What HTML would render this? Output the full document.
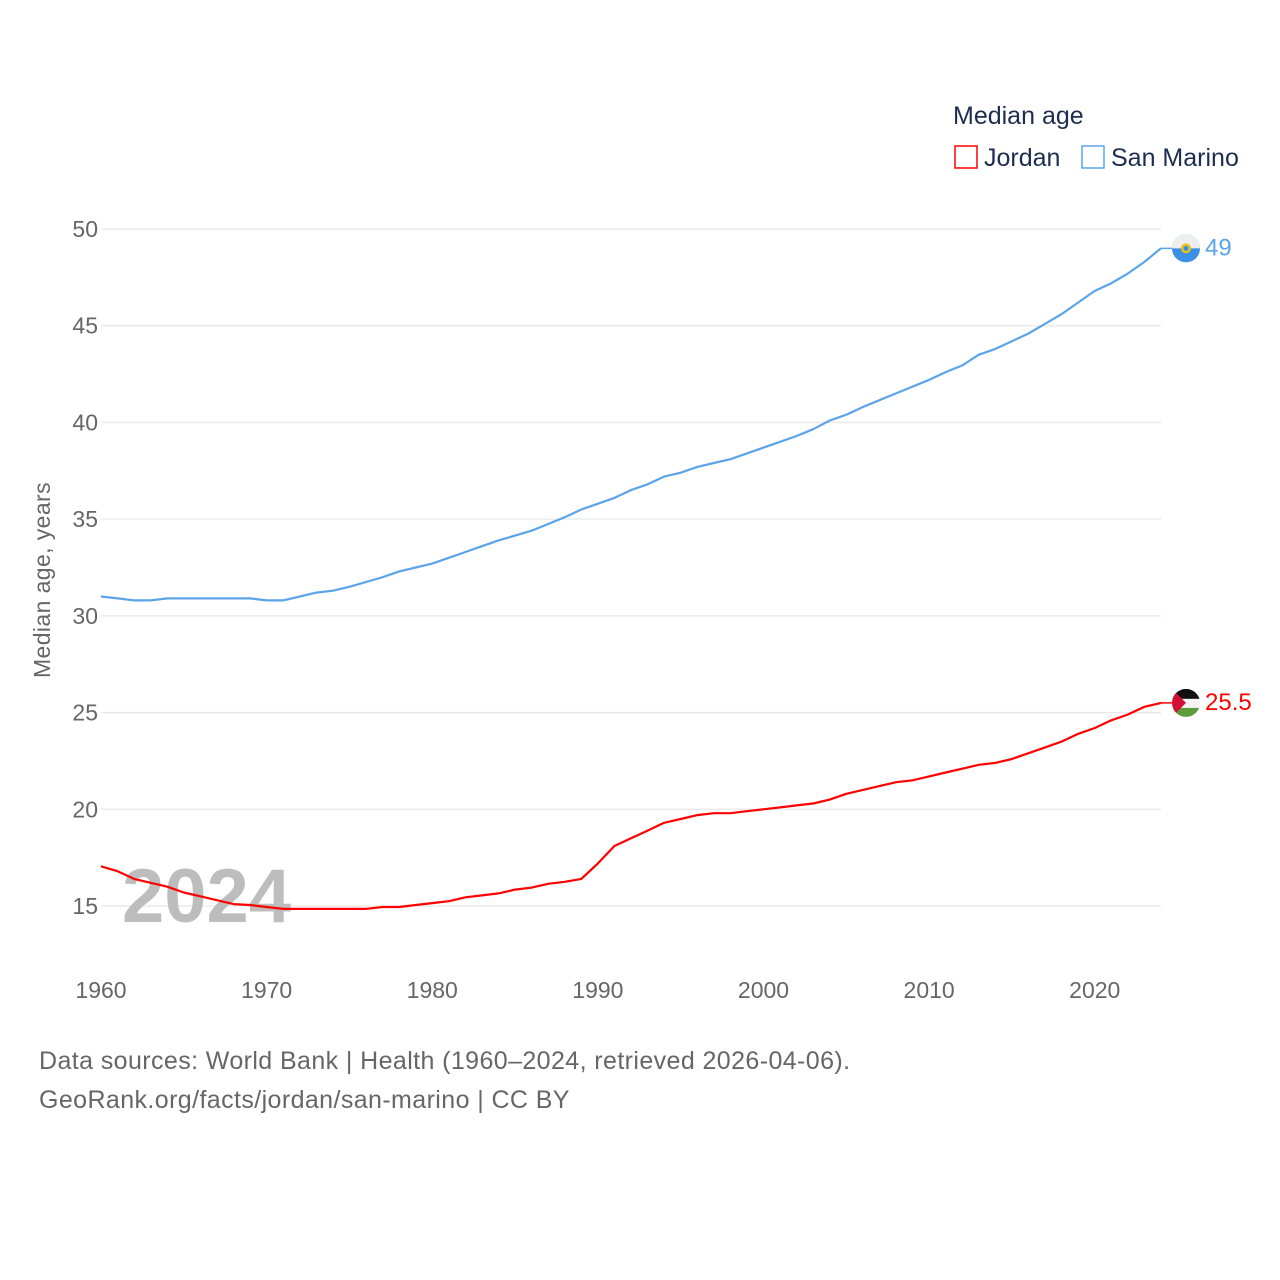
<!DOCTYPE html>
<html><head><meta charset="utf-8"><style>
html,body{margin:0;padding:0;background:#fff;}
svg{display:block;font-family:"Liberation Sans",sans-serif;}
</style></head><body>
<svg id="chart" width="1280" height="1280" viewBox="0 0 1280 1280">
<g>
<text x="953" y="124" font-size="25" fill="#1c2d4f">Median age</text>
<rect x="955" y="146" width="22" height="22" fill="none" stroke="#ff0000" stroke-width="1.5"/>
<text x="984" y="166" font-size="25" fill="#1c2d4f">Jordan</text>
<rect x="1082" y="146" width="22" height="22" fill="none" stroke="#5ba4ea" stroke-width="1.5"/>
<text x="1111" y="166" font-size="25" fill="#1c2d4f">San Marino</text>
</g>
<g id="grid"></g>
<g id="yticks"></g>
<g id="xticks"></g>
<text x="0" y="0" transform="translate(50,580) rotate(-90)" text-anchor="middle" font-size="23" letter-spacing="0.4" fill="#666">Median age, years</text>
<text x="122" y="922" font-size="76" font-weight="bold" fill="#bdbdbd">2024</text>
<g id="series"></g>
<text x="39" y="1069" font-size="25" letter-spacing="0.4" fill="#666">Data sources: World Bank | Health (1960–2024, retrieved 2026-04-06).</text>
<text x="39" y="1108" font-size="25" letter-spacing="0.4" fill="#666">GeoRank.org/facts/jordan/san-marino | CC BY</text>
</svg>
<script>
const years = [];
for (let y = 1960; y <= 2024; y++) years.push(y);
const sanMarino = [31.0,30.9,30.8,30.8,30.9,30.9,30.9,30.9,30.9,30.9,30.8,30.8,31.0,31.2,31.3,31.5,31.75,32.0,32.3,32.5,32.7,33.0,33.3,33.6,33.9,34.15,34.4,34.75,35.1,35.5,35.8,36.1,36.5,36.8,37.2,37.4,37.7,37.9,38.1,38.4,38.7,39.0,39.3,39.65,40.1,40.4,40.8,41.15,41.5,41.85,42.2,42.6,42.95,43.5,43.8,44.2,44.6,45.1,45.6,46.2,46.8,47.2,47.7,48.3,49.0];
const jordan = [17.05,16.8,16.4,16.2,16.0,15.7,15.5,15.3,15.1,15.05,14.95,14.85,14.85,14.85,14.85,14.85,14.85,14.95,14.95,15.05,15.15,15.25,15.45,15.55,15.65,15.85,15.95,16.15,16.25,16.4,17.2,18.1,18.5,18.9,19.3,19.5,19.7,19.8,19.8,19.9,20.0,20.1,20.2,20.3,20.5,20.8,21.0,21.2,21.4,21.5,21.7,21.9,22.1,22.3,22.4,22.6,22.9,23.2,23.5,23.9,24.2,24.6,24.9,25.3,25.5];
const yTicks = [15,20,25,30,35,40,45,50];
const xTicks = [1960,1970,1980,1990,2000,2010,2020];
const endLabels = ["25.5","49"];

const NS = "http://www.w3.org/2000/svg";
const xs = y => 101 + (y - 1960) * (1161 - 101) / 64;
const ys = v => 229 + (50 - v) * (906 - 229) / 35;
function mk(tag, attrs, parent, text) {
  const el = document.createElementNS(NS, tag);
  for (const k in attrs) el.setAttribute(k, attrs[k]);
  if (text !== undefined) el.textContent = text;
  parent.appendChild(el);
  return el;
}
const grid = document.getElementById('grid'), yt = document.getElementById('yticks'), xt = document.getElementById('xticks'), ser = document.getElementById('series');
yTicks.forEach(v => {
  const l = mk('line', {x1:101, x2:1161, y1:ys(v), y2:ys(v), stroke:'#e8e8e8', 'stroke-width':1.3}, grid);
  
  
  const t = mk('text', {x:98, y:ys(v)+8, 'text-anchor':'end', 'font-size':23, fill:'#666'}, yt, String(v));
  
  
});
xTicks.forEach(v => {
  const t = mk('text', {x:xs(v), y:998, 'text-anchor':'middle', 'font-size':23, fill:'#666'}, xt, String(v));
  
  
});
function line(data, color, name) {
  const d = data.map((v, i) => (i ? 'L' : 'M') + xs(years[i]).toFixed(1) + ',' + ys(v).toFixed(1)).join(' ');
  const p = mk('path', {d:d, fill:'none', stroke:color, 'stroke-width':2.2, 'stroke-linejoin':'round'}, ser);
  
  
  const last = data[data.length - 1], lx = xs(years[years.length - 1]);
  const c = mk('line', {x1:lx, x2:lx+12, y1:ys(last), y2:ys(last), stroke:color, 'stroke-width':1.5}, ser);
  
  
  return ys(last);
}
const yS = line(sanMarino, '#5ba4ea', 'line-san-marino');
const yJ = line(jordan, '#ff0000', 'line-jordan');
const fS = mk('g', {}, ser);


mk('circle', {cx:1186, cy:yS, r:14, fill:'#3b8fe6'}, fS);
mk('path', {d:`M1172,${yS} A14,14 0 0 1 1200,${yS} Z`, fill:'#eeeeee'}, fS);
mk('circle', {cx:1186, cy:yS, r:5, fill:'#e8c21a'}, fS);
mk('circle', {cx:1186, cy:yS, r:2.5, fill:'#3b8fe6'}, fS);
const tS = mk('text', {x:1205, y:yS+7, 'font-size':24, fill:'#5ba4ea'}, ser, endLabels[1]);


const fJ = mk('g', {}, ser);


const cpath = mk('clipPath', {id:'jc'}, fJ);
mk('circle', {cx:1186, cy:yJ, r:14}, cpath);
const gj = mk('g', {'clip-path':'url(#jc)'}, fJ);
mk('rect', {x:1172, y:yJ-14, width:28, height:10, fill:'#111'}, gj);
mk('rect', {x:1172, y:yJ-4, width:28, height:9, fill:'#f4f4f4'}, gj);
mk('rect', {x:1172, y:yJ+5, width:28, height:10, fill:'#5d9c3a'}, gj);
mk('path', {d:`M1172,${yJ-14} L1186,${yJ} L1172,${yJ+14} Z`, fill:'#d21034'}, gj);
const tJ = mk('text', {x:1205, y:yJ+7, 'font-size':24, fill:'#ff0000'}, ser, endLabels[0]);


</script>
</body></html>
